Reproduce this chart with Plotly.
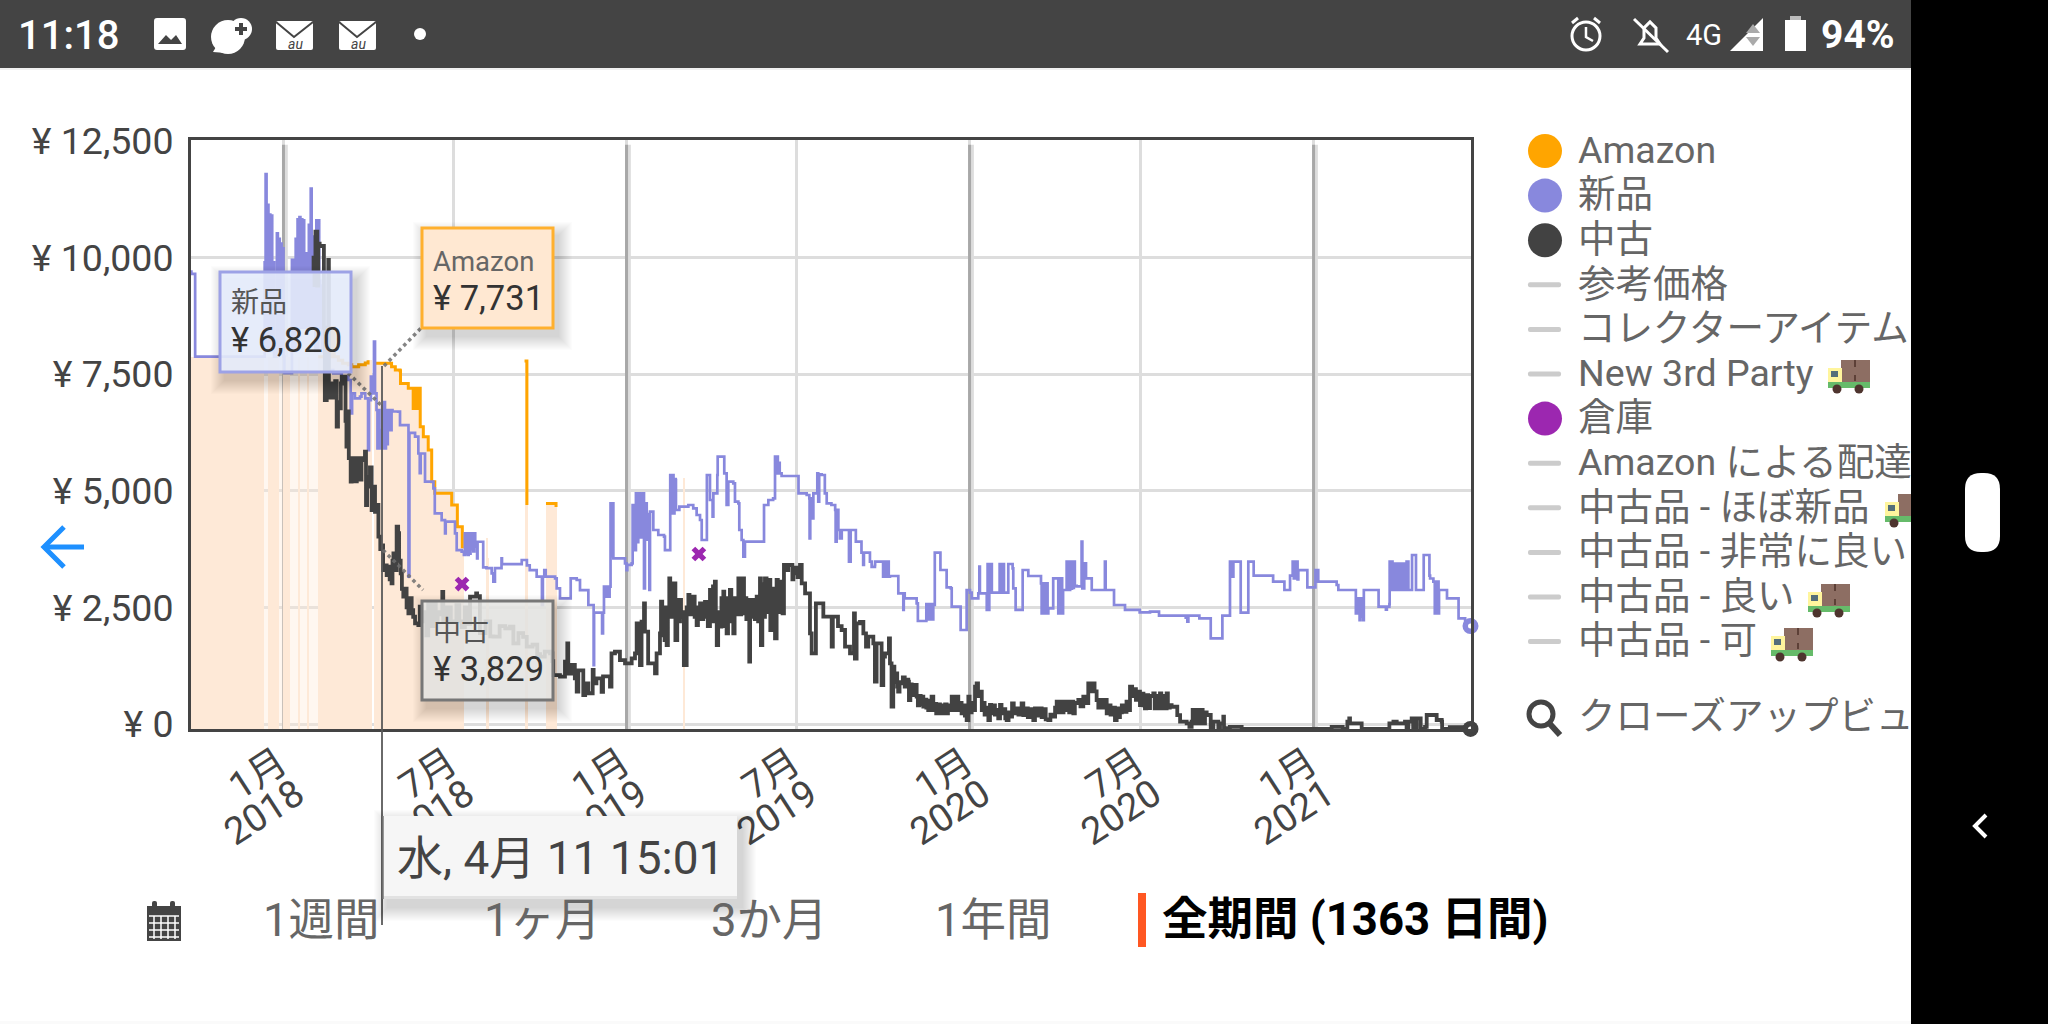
import pandas as pd
import plotly.graph_objects as go

# ---------- data (days since the first day of the chart, price in yen) ----------
START = pd.Timestamp("2017-09-23")
y_ticks = [0, 2500, 5000, 7500, 10000, 12500]
y_labels = ["¥ 0", "¥ 2,500", "¥ 5,000", "¥ 7,500", "¥ 10,000", "¥ 12,500"]
x_ticks = ["2018-01-01", "2018-07-01", "2019-01-01", "2019-07-01", "2020-01-01", "2020-07-01", "2021-01-01"]
x_months = ["1月", "7月", "1月", "7月", "1月", "7月", "1月"]
x_years = ["2018", "2018", "2019", "2019", "2020", "2020", "2021"]
year_ticks = ["2018-01-01", "2019-01-01", "2020-01-01", "2021-01-01"]

amazon_points = [
    (0,7875),(79,None),(84,7875),(95,None),(100,7875),(107,None),(116,7875),(117,None),(126,7875),(127,None),
    (137,7875),(146,7875),(151,8500),(154,7875),(158.4,7800),(163,7732),(169,7700),(172.6,7661),(180,7700),
    (187,7740),(190,7800),(194,None),(196,7732),(211.6,7732),(215,7661),(219,7590),(224,7574),(224.5,7303),
    (231,7303),(232.8,7196),(238,6767),(239,7196),(240,6767),(241,7196),(242,6767),(243,7196),(244,6767),
    (245,7196),(245.5,6374),(248.8,6160),(254,5874),(257,5874),(257.7,5195),(261,4945),(277,4945),(279,4695),
    (284,4695),(285,4230),(289.6,4230),(290.3,3766),(291.5,None),(316,3980),(317,None),(317.5,3551),(318.5,None),
    (356.5,7782),(359,7782),(359,4695),(360,None),(379.3,4730),(390,4650),(390.5,None),(525.4,5267),(526.4,None),
]
amazon_faint_days = [79, 146]
amazon_faint_price = [7875, 7875]

new_points = [
    (0,9700),(2,9650),(6,7875),(79,7875),(80,9900),(81,11790),(82,8000),(83,11130),(84,8000),(85,10920),(86,8000),
    (87,10900),(88,8000),(89,9900),(90,7875),(93,10520),(94,8000),(95,10400),(96,8000),(97,10300),(98,8000),
    (99,10200),(100,7875),(101,7520),(108,7520),(109,9950),(110,8000),(111,9950),(112,8000),(113,10400),(114,8500),
    (115,10820),(116,8500),(117,10870),(118,8500),(119,10820),(120,8500),(121,10800),(122,8500),(123,10090),
    (124,8500),(125,10090),(126,8500),(127,10700),(128,8500),(129,11480),(130,8500),(131,10450),(132,8500),
    (133,10450),(134,8000),(135,10800),(136,8000),(137,10800),(138,9500),(139,8500),(140,9400),(141,8000),
    (143,8500),(144,7700),(147.7,7590),(153,7518),(162,7446),(169,7375),(171.5,6660),(173,7090),(176,6982),
    (181.4,7018),(183,7090),(187,6982),(190,5874),(191,6946),(193,7446),(195,7090),(196.3,8197),(197.4,7090),
    (199,6732),(200,5910),(201,6732),(202,5910),(203,6300),(204,5910),(205,6820),(206,5910),(207,6900),(208,5910),
    (209,6730),(210,6000),(211,6730),(212,6300),(213,6730),(214,6300),(215,6730),(216,6700),(222,6696),(224,6410),
    (232,6410),(233,3158),(234,6240),(240,6160),(243.5,5800),(245,5380),(246,5800),(249,5800),(250.6,5195),
    (259.5,5050),(261,4516),(268.3,4373),(271.9,4087),(272.6,4337),(280.7,4337),(282.5,4087),(284.3,3730),
    (289.6,3694),(292,3623),(293,4087),(294,3650),(295,4087),(296,3623),(297,4087),(298,3650),(299,4087),(300,3750),
    (301,4087),(302,3700),(303,4087),(304,3800),(305,3908),(306,3551),(306.5,3908),(312,3908),(312.5,3358),
    (316,3340),(321.5,3230),(323.3,3051),(325,3340),(332,3551),(332.5,3430),(351.7,3430),(353.5,3516),(359,3400),
    (362,3300),(367.6,3300),(369.4,3158),(374.7,3158),(375,2551),(376,3158),(377.5,3300),(379,3158),(389,3122),
    (390.7,2908),(394.2,2694),(404.9,2694),(405.6,3122),(412,3087),(415.5,2872),(422.6,2872),(424.4,2551),
    (429.7,2551),(430,1264),(430.5,2386),(438.6,2386),(439,1943),(440,2386),(441,2944),(442,2730),(443,2944),
    (444,2730),(445,2944),(446,2730),(447,2944),(448,4730),(449,3600),(450,4730),(451,3552),(461.6,3552),
    (463.4,3445),(465,3300),(465.8,3410),(470.5,3445),(471.5,4695),(472,3800),(473,4695),(474,3730),(475,4945),
    (476,3900),(477.5,4945),(478.5,4000),(479.3,4945),(480,4100),(481,4870),(482,4000),(482.9,4945),(483.6,2908),
    (484.6,4500),(485.7,4731),(486.5,3950),(487.5,4500),(489,4400),(489.3,2873),(490,4553),(493.5,4553),(493.5,4160),
    (498.8,4052),(504.9,4016),(505.9,3730),(511.2,3730),(511.5,5339),(513,4517),(514,5339),(515,4517),(516,5250),
    (517.3,5231),(517.6,4588),(521.2,4660),(530.8,4695),(536,4624),(539.6,4481),(543.2,4374),(545,3945),(550.3,3945),
    (550.5,5339),(552.8,5339),(553.8,4803),(556.6,4445),(557.4,4945),(561.6,5339),(562,5732),(568,5732),(569,5374),
    (571.5,4695),(573.3,5196),(578.6,5160),(580.4,4767),(584,4731),(585,4160),(587.5,3945),(589.3,3588),(591,3909),
    (610.6,3909),(611.3,4695),(615.9,4803),(621,4838),(623,5732),(624,5374),(625,5732),(626,5374),(627,5600),
    (628,5374),(630,5317),(647.8,5317),(648,4945),(656.7,4910),(659.5,4838),(659.8,3981),(660.5,4838),(662,4409),
    (663.8,4945),(667.3,4945),(668,5374),(669,4767),(670,5350),(672.6,5339),(676,4945),(678,4731),(683,4695),
    (687,4590),(687.5,3909),(688.6,4590),(690.4,4160),(692,3981),(694,4160),(701,4160),(701.7,3481),(703.5,4160),
    (709,3910),(714,3910),(715,3674),(716.8,3409),(717.6,3674),(722.2,3674),(724,3481),(725.8,3370),(729.3,3409),
    (729.5,3481),(737.5,3481),(738,3159),(739,3481),(740,3159),(741,3481),(742,3159),(743,3481),(744,3159),(745.3,3173),
    (753.5,3173),(754.2,2802),(759,2802),(759.5,2445),(760,2802),(761,2695),(772,2695),(773.7,2587),(775,2209),
    (783.6,2209),(784,2573),(785,2244),(786,2573),(787,2244),(788,2573),(789,2244),(790,2573),(790.7,2244),(791.4,2552),
    (793,3674),(798.5,3674),(799,3302),(803.8,3302),(805.6,2930),(810,2910),(811,2516),(819.8,2516),(820.5,2016),
    (826.2,2016),(826.9,2873),(830.4,2816),(832.2,2695),(838.2,2695),(839.3,2802),(840.4,3374),(841,2802),(848,2802),
    (848.3,2445),(849.2,3431),(850,2445),(851,3431),(852,2816),(853,3431),(853.7,2816),(861.6,2816),(862,3431),(863,2816),
    (864,3431),(865,2816),(866,3431),(866.6,2816),(869.5,2816),(871.2,3431),(875.8,3338),(876.5,2910),(879,2445),
    (885.4,2445),(886.5,3302),(892.5,3173),(905,3173),(906,3016),(906.7,2373),(908,3016),(909,2373),(910,3016),
    (911,2373),(912,3016),(913,2373),(913.8,2480),(915,2480),(919,3123),(923,3123),(924.4,2373),(925.5,3123),(926.5,2373),
    (927.5,3123),(928.5,2373),(929.5,2873),(932,2873),(933.3,3481),(934,2873),(935,3481),(936,2873),(937,3481),(938,2900),
    (939,3481),(940,2920),(941,3481),(942,2960),(944,2950),(949.2,3910),(950,2910),(952,3445),(953.9,3123),(959,3123),
    (960,2873),(974,2873),(974,3481),(974.8,2873),(983,2873),(983.7,2552),(995.4,2552),(995.4,2445),(1006,2445),(1011,2394),
    (1022,2408),(1031,2408),(1031.6,2322),(1059,2322),(1060,2280),(1061.7,2194),(1062.8,2322),(1073.4,2322),(1074.5,2265),
    (1086,2265),(1086.6,1836),(1098.3,1836),(1099,2322),(1107,2322),(1107.1,3480),(1108,3158),(1109,3480),(1110,3158),
    (1110.7,3480),(1117.8,3480),(1118.5,2386),(1126,2386),(1126.6,3480),(1132,3480),(1132.3,3180),(1152.5,3180),(1153,3051),
    (1164.5,3051),(1165,2873),(1170.5,2873),(1171,3180),(1173.6,3180),(1173.8,3480),(1175,3120),(1176,3480),(1177,3120),
    (1178,3480),(1179,3100),(1179.8,3301),(1188.7,3301),(1189.4,2930),(1197.6,2930),(1198,3301),(1199,3051),(1200,3301),
    (1201,3051),(1219,3051),(1220.6,2980),(1222.4,2873),(1240,2873),(1241,2372),(1242,2694),(1243,2372),(1244,2694),(1245,2229),
    (1246,2694),(1247,2300),(1248,2694),(1249,2229),(1249.5,2873),(1256,2873),(1265,2873),(1265.2,2515),(1272,2515),(1273,2450),
    (1274,2515),(1276.7,2570),(1277,3480),(1278,2873),(1279,3480),(1280,2873),(1281,3440),(1282,2873),(1283,3440),(1284,2873),
    (1285,3440),(1286,2873),(1287,3440),(1288,2873),(1289,3440),(1290,2873),(1291,3440),(1292,2873),(1293,3440),(1294,2873),
    (1295,3480),(1296.9,2873),(1300.4,2873),(1300.8,3623),(1304.7,3623),(1305,2873),(1313,2873),(1313.2,3623),(1319,3623),
    (1319.3,3180),(1320,3120),(1323.5,3051),(1325,2372),(1326,3051),(1327,2372),(1328,3051),(1329,2372),(1329.5,2873),
    (1337.7,2873),(1338,2694),(1350,2694),(1350.3,2265),(1357,2265),(1357.3,2122),(1363,2100),
]

used_points = [
    (108.5,9970),(110,None),(130,9700),(132,10000),(133,9412),(134,10555),(136,9400),(137,10300),(138.5,10248),
    (142.5,10248),(143,8500),(144,6946),(146,7400),(147.7,9948),(148.3,7000),(150,7300),(152,7000),(153,7089),
    (155,7350),(156.6,6374),(158,6900),(160,6767),(161,7300),(162,7446),(165.5,7446),(166,6500),(167,5946),
    (168,6700),(169.5,5700),(171.5,5195),(172.5,5700),(174.3,5660),(176,5200),(178,5700),(179.6,5700),(181.4,5240),
    (183,5700),(185,5660),(186.7,5838),(187.8,4695),(189,5300),(190.3,5088),(192,5500),(193.8,4587),(195.6,5088),
    (197.4,4550),(199.9,4695),(201,4016),(203,3750),(204.5,3829),(206,3301),(208,3400),(209.8,3194),(211.6,3373),
    (213,3100),(215,3015),(216,3500),(217,3659),(218.5,3300),(220.4,4230),(222,4090),(223,3500),(224.7,3230),
    (226,2900),(227.5,2730),(229,2900),(231,2500),(232.9,2372),(234.5,2700),(236.4,2440),(238,2300),(240,2158),
    (243.5,2122),(245,2515),(247,2200),(250,2400),(252,1900),(254,2600),(257,2100),(259.5,2590),(262,2200),
    (264,2400),(266.5,2350),(269,2835),(270,2230),(274,2500),(278,2200),(284,2550),(287,2200),(289.6,2080),
    (293,2500),(296,2150),(298.5,2730),(304,2730),(305,2800),(306,2740),(309,1950),(315,2200),(320,1880),
    (323.3,1872),(330,2100),(336,2050),(341,2086),(344.6,1730),(350,1950),(355,1870),(358.8,1658),(365,1700),
    (370,1500),(373,1443),(378,1550),(383.6,1515),(386,1350),(387,1050),(390.7,1050),(394.2,1015),(399.5,1336),
    (402,1729),(403,1080),(406.6,1265),(410,980),(412,693),(413.7,1150),(419,622),(421,870),(424.3,660),
    (429,1158),(430,870),(433,980),(438.5,690),(440,1020),(447.4,800),(449,1515),(452.7,1550),(458,1370),
    (463.4,1300),(470.5,1408),(474,1515),(475.8,2158),(479.3,1265),(481,2194),(483.6,2587),(484.6,1980),(488,1300),
    (491.7,1300),(495.3,1086),(497,1515),(500.6,1944),(501.7,2623),(503,1900),(504,2500),(505.5,1800),(507.7,1694),
    (509,2500),(510.5,3123),(511.5,2300),(513,3016),(514.5,2400),(516.6,3016),(517,1800),(519,2660),(520,2200),
    (521.9,2660),(523,2300),(525.4,2400),(526,1265),(528,1265),(529,2500),(530.8,2766),(532,2350),(534,2730),
    (536,2730),(537.5,2300),(539.6,2122),(541,2500),(543.2,2587),(544.5,2250),(546.7,2372),(548.5,2620),(550.3,2300),
    (551.5,2100),(553.8,2873),(555,2200),(557,2950),(559,3051),(560,2200),(561,1694),(562.5,2400),(564.5,2087),
    (566,2700),(568,2837),(569,2100),(570.5,2650),(571.5,1944),(573,2700),(575,2873),(576.5,2200),(578.6,1944),
    (580,2700),(582,2350),(584,3123),(585.5,2350),(587,3123),(589,3123),(590,2373),(591.5,2700),(592.5,2250),
    (595.6,1336),(596.5,2659),(598,2300),(600,2659),(601.5,2250),(603.5,2730),(605,2200),(607,3123),(608,1694),
    (609.5,3000),(611,2300),(612.3,3123),(614,2400),(616,3087),(617.7,3087),(618,2015),(620,2900),(621.5,2300),
    (623,1836),(624.7,3087),(626,2400),(628,3050),(630,2450),(631,2373),(632.5,3409),(635,3300),(637,3409),(640.7,3409),
    (641.5,3100),(642.5,3230),(645,3350),(647,3150),(649.6,3409),(651.4,3016),(655,2801),(658.5,2801),(660.2,1944),
    (662,1515),(666,1515),(666.5,2587),(670.9,2587),(674.4,2302),(681.5,2302),(683.3,1658),(684.5,2302),(688.6,2302),
    (690,2100),(693.9,2015),(697.5,1658),(702.8,1515),(707,2373),(708,1400),(709.8,2159),(713.4,2190),(717,1944),
    (719.8,1660),(722.2,1873),(727.6,1730),(729.3,908),(731.1,1730),(736.4,836),(738.2,1444),(740,1515),(744.2,1837),
    (745.3,1300),(747,372),(748.8,1229),(750,900),(752.4,1087),(753,800),(754,694),(755.5,900),(757.7,872),(759,1000),
    (761,800),(763,950),(764.8,908),(765.5,515),(767,850),(768.4,801),(770,620),(771.9,836),(773.7,587),(775,400),
    (776.5,600),(778,420),(779,587),(780.8,372),(782,520),(784,350),(786,300),(787.5,500),(789.6,587),(791.4,300),
    (793,430),(794.5,230),(796,420),(798.5,229),(800,400),(802,230),(804,420),(805.6,229),(807,400),(809,300),(811,587),
    (813,300),(816.2,587),(818,300),(820,450),(821.5,230),(823.3,400),(825,180),(826.9,86),(828.7,587),(830,250),
    (832.2,450),(834,300),(835.8,801),(837.5,872),(839,600),(841,694),(843,300),(844.6,450),(846,200),(848,350),(850,86),
    (851.7,408),(853,230),(855,400),(857,200),(858.8,300),(860.5,120),(862.4,408),(864,229),(866,320),(868,120),(869.5,86),
    (871.5,250),(874.8,158),(875.2,443),(877,230),(880,336),(882,200),(885.4,443),(887.2,193),(889,336),(892,150),(894,320),
    (897.8,86),(899.6,336),(902,180),(904,336),(906.7,150),(909,320),(911,100),(913.8,86),(916,200),(919,158),(921,350),
    (922.7,479),(924,250),(926,480),(928,250),(930,479),(932,300),(934,480),(936,250),(938.6,479),(940.4,229),(942,450),
    (945.7,515),(948,380),(951,587),(953,450),(956.3,872),(958,700),(961.7,872),(963,700),(965.2,515),(967,350),(970,515),
    (972,350),(974,515),(975.9,229),(978,400),(980,200),(982,350),(984.7,86),(986.5,336),(988,150),(990,250),(992,400),
    (994,260),(997,479),(998.5,300),(1000.7,801),(1003,600),(1005,750),(1007,520),(1009.6,694),(1011.3,408),(1013,650),
    (1015,400),(1016.6,336),(1018,620),(1020,340),(1022,600),(1025.5,657),(1027,335),(1029,600),(1030.5,335),(1032.6,657),
    (1034,335),(1036,600),(1038,335),(1039.7,657),(1041,350),
    (1043,407),(1045,370),(1049.7,370),(1051,192),(1054,50),(1061,14),(1063.9,-60),(1066.3,50),(1067.4,300),(1069,14),
    (1070.5,300),(1072,14),(1073.5,300),(1075,14),(1076.5,300),(1078,14),(1080.5,250),(1082.3,193),(1085.8,193),(1086.6,-90),
    (1089.4,50),(1094.7,-90),(1096.5,14),(1100,157),(1100.7,-90),(1107,-60),(1117.8,-60),(1119.5,-105),(1215.3,-60),
    (1226,-60),(1227,-105),(1231.3,-105),(1232,50),(1234,121),(1234.8,14),(1247,14),(1247.2,-105),(1275.6,-105),(1276.7,14),
    (1281,50),(1284.5,14),(1293.3,50),(1295,-105),(1296.9,50),(1300.4,121),(1302,-105),(1305.8,121),(1309.3,121),(1310,-105),
    (1314.6,-60),(1316.4,193),(1325,193),(1327,86),(1332.4,50),(1332.8,-105),(1339.5,-105),(1341,-70),(1355.4,-70),(1357,-105),(1363,-105),
]

warehouse_days = [290, 542]
warehouse_price = [3001, 3645]

legend_names = ["Amazon", "新品", "中古", "参考価格", "コレクターアイテム", "New 3rd Party", "倉庫", "Amazon による配達",
                "中古品 - ほぼ新品", "中古品 - 非常に良い", "中古品 - 良い", "中古品 - 可"]
legend_colors = ["#ffa500", "#8888dd", "#424242", None, None, None, "#9c27b0", None, None, None, None, None]
legend_closeup = "クローズアップビュー"
range_names = ["1週間", "1ヶ月", "3か月", "1年間"]
range_selected = "全期間 (1363 日間)"
tip_new, tip_amazon, tip_used = "¥ 6,820", "¥ 7,731", "¥ 3,829"
tip_date = "水, 4月 11 15:01"

# ---------- helpers ----------
W, H = 2048, 1024
FONT = "Roboto, 'Noto Sans CJK JP', sans-serif"
PX = lambda v: v / W
PY = lambda v: 1 - v / H
when = lambda d: START + pd.to_timedelta(d, unit="D")

shapes, annos = [], []

def rect(x0, y0, x1, y1, fill, line=None, lw=0, layer="above", op=1):
    shapes.append(dict(type="rect", xref="paper", yref="paper", x0=PX(x0), x1=PX(x1), y0=PY(y0), y1=PY(y1),
                       fillcolor=fill, opacity=op, layer=layer,
                       line=dict(color=line or "rgba(0,0,0,0)", width=lw)))

def circle(cx, cy, r, fill, line=None, lw=0):
    shapes.append(dict(type="circle", xref="paper", yref="paper", x0=PX(cx-r), x1=PX(cx+r), y0=PY(cy+r), y1=PY(cy-r),
                       fillcolor=fill, layer="above", line=dict(color=line or "rgba(0,0,0,0)", width=lw)))

def poly(points, fill=None, line=None, lw=0, close=True):
    d = "M " + " L ".join(f"{PX(x):.5f},{PY(y):.5f}" for x, y in points) + (" Z" if close else "")
    shapes.append(dict(type="path", path=d, xref="paper", yref="paper", layer="above",
                       fillcolor=fill or "rgba(0,0,0,0)", line=dict(color=line or "rgba(0,0,0,0)", width=lw)))

def seg(x0, y0, x1, y1, color, lw, dash=None):
    shapes.append(dict(type="line", xref="paper", yref="paper", x0=PX(x0), x1=PX(x1), y0=PY(y0), y1=PY(y1), layer="above",
                       line=dict(color=color, width=lw, dash=dash or "solid")))

def round_rect(x0, y0, x1, y1, r, fill):
    d = (f"M {PX(x0+r):.5f},{PY(y0):.5f} L {PX(x1-r):.5f},{PY(y0):.5f} Q {PX(x1):.5f},{PY(y0):.5f} {PX(x1):.5f},{PY(y0+r):.5f} "
         f"L {PX(x1):.5f},{PY(y1-r):.5f} Q {PX(x1):.5f},{PY(y1):.5f} {PX(x1-r):.5f},{PY(y1):.5f} "
         f"L {PX(x0+r):.5f},{PY(y1):.5f} Q {PX(x0):.5f},{PY(y1):.5f} {PX(x0):.5f},{PY(y1-r):.5f} "
         f"L {PX(x0):.5f},{PY(y0+r):.5f} Q {PX(x0):.5f},{PY(y0):.5f} {PX(x0+r):.5f},{PY(y0):.5f} Z")
    shapes.append(dict(type="path", path=d, xref="paper", yref="paper", layer="above", fillcolor=fill,
                       line=dict(color="rgba(0,0,0,0)", width=0)))

def text(x, y, s, size, color, anchor="left", weight=None, style=None, family=FONT):
    f = dict(family=family, size=size, color=color)
    if weight: f["weight"] = weight
    if style: f["style"] = style
    annos.append(dict(x=PX(x), y=PY(y), xref="paper", yref="paper", text=s, showarrow=False, xanchor=anchor,
                      yanchor="middle", font=f, borderpad=0))

def shadow(x0, y0, x1, y1):
    for i in range(1, 15):
        rect(x0 - i + 5, y0 - i + 8, x1 + i + 5, y1 + i + 8, "#000000", op=0.012)

def truck(x, y):
    rect(x+13, y, x+42, y+24, "#8d6e63")
    rect(x+26, y, x+28, y+7, "#5d4037")
    rect(x+26, y+15, x+28, y+21, "#5d4037")
    rect(x, y+8, x+14, y+24, "#fff59d")
    rect(x+3, y+11, x+10, y+17, "#546e7a")
    rect(x, y+22, x+42, y+28, "#66bb6a")
    circle(x+9, y+29, 4.5, "#4e342e")
    circle(x+31, y+29, 4.5, "#4e342e")

# ---------- traces ----------
am_d = [p[0] for p in amazon_points]
am_p = [p[1] for p in amazon_points]
new_d = [p[0] for p in new_points]
new_p = [p[1] for p in new_points]
us_d = [p[0] for p in used_points]
us_p = [p[1] for p in used_points]

FLOOR = -107
TOP = 12521
fill_x, fill_w, fill_y = [], [], []
for (d0, p0), (d1, _) in zip(amazon_points[:-1], amazon_points[1:]):
    if p0 is not None and d1 > d0:
        fill_x.append(when((d0 + d1) / 2))
        fill_w.append((d1 - d0) * 86400000)
        fill_y.append(p0 - FLOOR)

fig = go.Figure()
fig.add_trace(go.Bar(x=[when((amazon_faint_days[0] + amazon_faint_days[1]) / 2)],
                     y=[amazon_faint_price[0] - FLOOR], width=[(amazon_faint_days[1] - amazon_faint_days[0]) * 86400000], base=FLOOR,
                     marker=dict(color="rgba(254,233,215,0.38)", line=dict(width=0)), name="Amazon stock (partial)"))
fig.add_trace(go.Bar(x=fill_x, y=fill_y, width=fill_w, base=FLOOR, marker=dict(color="#fee9d7", line=dict(width=0)), name="Amazon stock"))
fig.add_trace(go.Scatter(x=when(pd.Series(am_d)), y=am_p, mode="lines", line=dict(color="#ffa500", width=3, shape="hv"), name="Amazon"))
fig.add_trace(go.Scatter(x=when(pd.Series(new_d)), y=new_p, mode="lines", line=dict(color="#8888dd", width=2.7, shape="hv"), name="新品"))
fig.add_trace(go.Scatter(x=when(pd.Series(us_d)), y=us_p, mode="lines", line=dict(color="#424242", width=3.8, shape="hv"), name="中古"))
fig.add_trace(go.Scatter(x=when(pd.Series(warehouse_days)), y=warehouse_price, mode="markers", name="倉庫",
                         marker=dict(symbol="x", size=13, color="#9c27b0", line=dict(width=0))))
fig.add_trace(go.Scatter(x=[when(new_d[-1]), when(us_d[-1])], y=[new_p[-1], us_p[-1]], mode="markers", cliponaxis=False, showlegend=False,
                         marker=dict(size=16, color=["#8888dd", "#424242"], line=dict(width=0))))
fig.add_trace(go.Scatter(x=[when(new_d[-1]), when(us_d[-1])], y=[new_p[-1], us_p[-1]], mode="markers", cliponaxis=False, showlegend=False,
                         marker=dict(size=5, color="#ffffff", line=dict(width=0))))

# second x axis only carries the year line of the two-line tick labels
fig.add_trace(go.Scatter(x=[when(0)], y=[0], xaxis="x3", yaxis="y", mode="markers", marker=dict(opacity=0), showlegend=False))

# legend text in a full-page helper subplot so that long rows are cut off at the black side panel
ROW0, ROWSTEP = 151, 44.6
rows = [ROW0 + i * ROWSTEP for i in range(len(legend_names))]
LEG_FONT = dict(family=FONT, size=37.5, color="#666666")
fig.add_trace(go.Scatter(x=[1578] * len(legend_names), y=[r + 2.5 for r in rows], xaxis="x2", yaxis="y2", mode="text", text=legend_names,
                         textposition="middle right", textfont=LEG_FONT, showlegend=False))
fig.add_trace(go.Scatter(x=[1578], y=[720], xaxis="x2", yaxis="y2", mode="text", text=[legend_closeup],
                         textposition="middle right", textfont=LEG_FONT, showlegend=False))

# ---------- gridline accents ----------
for t in year_ticks:
    d = pd.Timestamp(t)
    shapes.append(dict(type="line", xref="x", yref="y", x0=d + pd.Timedelta(days=3), x1=d + pd.Timedelta(days=3), y0=FLOOR, y1=TOP - 100,
                       layer="between", line=dict(color="#dddddd", width=3)))
    shapes.append(dict(type="line", xref="x", yref="y", x0=d, x1=d, y0=FLOOR, y1=TOP - 100, layer="between", line=dict(color="#a8a8a8", width=3)))

# ---------- crosshair and value boxes ----------
X_C = 382
seg(X_C, 366, X_C, 925, "rgba(90,90,90,0.9)", 2)
seg(384, 366, 422, 327, "rgba(110,110,110,0.85)", 3.5, "dot")
seg(348, 373, 383, 407, "rgba(110,110,110,0.85)", 3.5, "dot")
seg(383, 550, 423, 590, "rgba(110,110,110,0.85)", 3.5, "dot")

shadow(220, 272, 351, 372)
rect(220, 272, 351, 372, "rgba(232,238,254,0.9)", "#9da2e6", 3)
text(230, 302, "新品", 28, "#555555")
text(230, 340, tip_new, 34.5, "#333333")

shadow(422, 228, 553, 328)
rect(422, 228, 553, 328, "#ffe8d2", "#ffb02e", 3)
text(432, 261, "Amazon", 27.5, "#666666")
text(432, 298, tip_amazon, 34.5, "#333333")

shadow(422, 601, 553, 700)
rect(422, 601, 553, 700, "rgba(232,232,230,0.88)", "#777777", 3)
text(432, 631, "中古", 28, "#555555")
text(432, 669, tip_used, 34.5, "#333333")

shadow(383, 816, 737, 899)
rect(383, 816, 737, 898, "#f6f6f6")
rect(383, 896, 737, 899, "#e2e2e2")
seg(383, 816, 383, 899, "#777777", 1.5)
text(560, 858, tip_date, 46, "#444444", "center")

# ---------- left arrow ----------
poly([(44, 547), (84, 547)], None, "#1e90ff", 5, close=False)
poly([(64, 527), (44, 547), (64, 567)], None, "#1e90ff", 5, close=False)

# ---------- legend markers ----------
for y, c in zip(rows, legend_colors):
    if c:
        circle(1545, y, 17, c)
    else:
        round_rect(1528, y - 2.5, 1561, y + 2.5, 2, "#cccccc")
truck(1828, 360)
truck(1885, 494)
truck(1808, 584)
truck(1771, 628)
circle(1541, 714, 12, "rgba(0,0,0,0)", "#444444", 5)
seg(1550, 724, 1560, 735, "#444444", 6)

# ---------- range selector ----------
rect(147, 906, 181, 941, "#444444")
round_rect(152, 901, 157, 911, 2, "#444444")
round_rect(170, 901, 175, 911, 2, "#444444")
for gx in (154, 161, 168, 175):
    seg(gx, 916, gx, 939, "#ffffff", 1.5)
for gy in (916, 923, 930, 937):
    seg(149, gy, 179, gy, "#ffffff", 1.5)
for cx, s in zip((321, 542, 769, 993), range_names):
    text(cx, 920, s, 45.5, "#666666", "center")
rect(1138, 893, 1146, 947, "#ff5722")
text(1161, 919, range_selected, 45.5, "#000000", weight=700)

# ---------- phone chrome ----------
rect(0, 0, W, 68, "#444444")
rect(0, 68, 1911, 70, "#f1f1f1")
rect(0, 1021, 1911, 1024, "#fafafa")
text(17, 35, "11:18", 40, "#ffffff", weight=500)
# picture icon
round_rect(154, 18, 186, 50, 3, "#ffffff")
poly([(158, 44), (166, 35), (171, 40), (176, 35), (182, 44)], "#444444")
# chat icon
circle(228, 37, 17, "#ffffff")
poly([(216, 47), (213, 52), (226, 53)], "#ffffff")
circle(241, 29, 11, "#ffffff")
seg(235, 29, 247, 29, "#444444", 4)
seg(241, 23, 241, 35, "#444444", 4)
# mail icons
for mx in (276, 339):
    round_rect(mx, 21, mx + 37, 50, 2, "#ffffff")
    poly([(mx, 22), (mx + 18, 37), (mx + 37, 22)], None, "#444444", 2, close=False)
    text(mx + 19, 44, "au", 14, "#444444", "center", style="italic")
circle(420, 34, 6, "#ffffff")
# alarm
circle(1586, 36, 14, "rgba(0,0,0,0)", "#ffffff", 3)
poly([(1586, 27), (1586, 37), (1593, 41)], None, "#ffffff", 2.5, close=False)
seg(1572, 23, 1578, 18, "#ffffff", 3)
seg(1594, 18, 1600, 23, "#ffffff", 3)
# muted bell
poly([(1640, 44), (1644, 38), (1644, 28), (1650, 22), (1656, 28), (1656, 38), (1660, 44)], None, "#ffffff", 3)
seg(1634, 19, 1668, 52, "#ffffff", 3)
text(1704, 35, "4G", 29, "#ffffff", "center")
# signal
poly([(1730, 51), (1763, 18), (1763, 51)], "#ffffff")
poly([(1753, 24), (1760, 33), (1746, 33)], "#aaaaaa")
poly([(1753, 46), (1760, 37), (1746, 37)], "#aaaaaa")
# battery
rect(1785, 20, 1806, 51, "#ffffff")
rect(1790, 16, 1801, 20, "#bbbbbb")
text(1820, 35, "94%", 39, "#ffffff", weight=700)

# side panel drawn last so it covers the cut-off legend rows and trucks
rect(1911, 0, W, H, "#000000")
round_rect(1965, 473, 2000, 552, 16, "#ffffff")
poly([(1986, 815), (1975, 826), (1986, 837)], None, "#ffffff", 4, close=False)

# ---------- layout ----------
TICK_FONT = dict(family=FONT, size=38, color="#444444")
X_RANGE = [when(1.6), when(1363)]
X_DOMAIN = [PX(191), PX(1470.5)]
fig.update_layout(
    width=W, height=H, autosize=False, margin=dict(l=0, r=0, t=0, b=0),
    paper_bgcolor="#ffffff", plot_bgcolor="rgba(0,0,0,0)", showlegend=False, barmode="overlay", bargap=0, hovermode=False,
    font=dict(family=FONT),
    shapes=shapes, annotations=annos,
    xaxis=dict(domain=X_DOMAIN, type="date", range=X_RANGE, tickmode="array",
               tickvals=x_ticks, ticktext=x_months, tickangle=-33, ticklen=0, ticklabelstandoff=-6, ticklabelshift=-4,
               showgrid=True, gridcolor="#dddddd", gridwidth=3,
               showline=True, mirror=True, linecolor="#444444", linewidth=3, zeroline=False,
               tickfont=TICK_FONT, automargin=False),
    xaxis3=dict(domain=X_DOMAIN, type="date", range=X_RANGE, overlaying="x", anchor="y", side="bottom", tickmode="array",
                tickvals=x_ticks, ticktext=x_years, tickangle=-33, ticklen=0, ticklabelstandoff=35, ticklabelshift=13,
                showgrid=False, showline=False, zeroline=False, tickfont=TICK_FONT, automargin=False),
    yaxis=dict(domain=[PY(729), PY(140)], range=[FLOOR, TOP], tickmode="array", tickvals=y_ticks, ticktext=y_labels,
               ticklen=0, ticklabelstandoff=7, showgrid=True, gridcolor="#dddddd", gridwidth=2.5, zeroline=False,
               showline=True, mirror=True, linecolor="#444444", linewidth=3,
               tickfont=dict(family=FONT, size=37.5, color="#444444"), automargin=False),
    xaxis2=dict(domain=[0, PX(1911)], range=[0, 1911], visible=False, anchor="y2"),
    yaxis2=dict(domain=[0, 1], range=[H, 0], visible=False, anchor="x2"),
)

fig.write_html("out.html", config=dict(displayModeBar=False),
               post_script="document.body.style.margin='0';document.body.style.overflow='hidden';")
